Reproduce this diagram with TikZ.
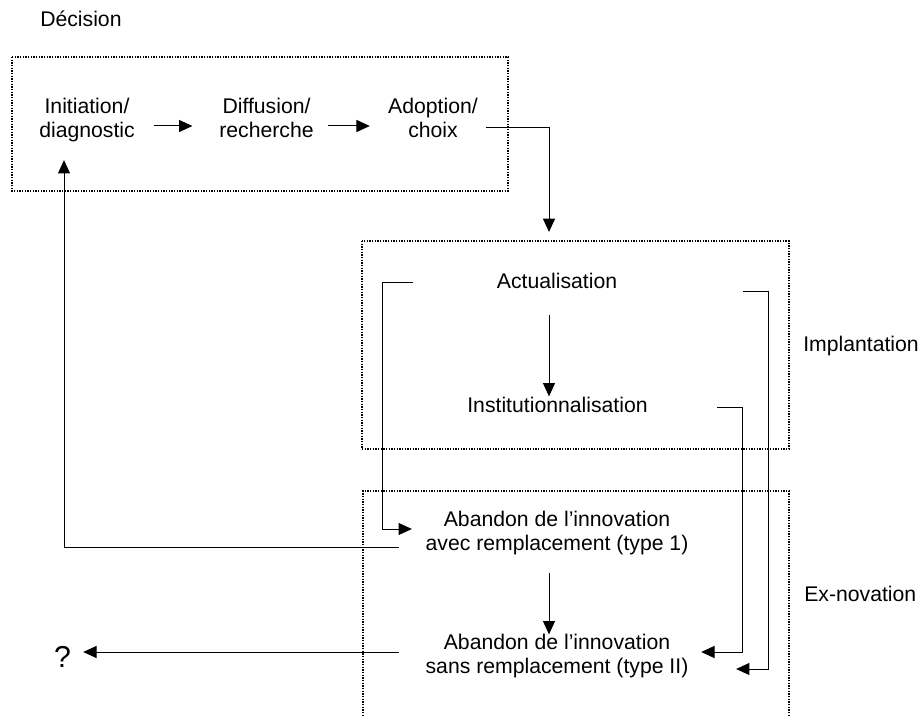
\documentclass[tikz,border=0pt]{standalone}
\usepackage{fontspec}
\setmainfont{Liberation Sans}
\usetikzlibrary{arrows.meta}

\begin{document}
\begin{tikzpicture}[x=0.75pt, y=-0.75pt, font=\fontsize{15.9}{18}\selectfont]
        \tikzstyle{stage}=[align=center, inner sep=0pt]
        \tikzstyle{label}=[inner sep=0pt, anchor=base west]
        \tikzstyle{zone}=[line width=1.1pt, dash pattern=on 1pt off 1pt]
        \tikzstyle{arr}=[line width=0.75pt, -{Triangle[length=10pt,width=9pt]}]

        \useasboundingbox (0,0) rectangle (921,716);

        % phases
        \draw[zone] (12,57) rectangle (508,191);
        \draw[zone] (362,241) rectangle (789,449);
        \draw[zone] (363,716) -- (363,491) -- (789,491) -- (789,716);

        \node[label] (L_dec) at (40,27) {Décision};
        \node[label] (L_impl) at (803,352) {Implantation};
        \node[label] (L_exn) at (804,601) {Ex-novation};

        \node[stage] (S_init) at (87,120.5) {Initiation/\\diagnostic};
        \node[stage] (S_diff) at (266.5,118) {Diffusion/\\recherche};
        \node[stage] (S_adopt) at (433,118) {Adoption/\\choix};
        \node[stage] (S_actu) at (557,281) {Actualisation};
        \node[stage] (S_inst) at (557.5,405) {Institutionnalisation};
        \node[stage] (S_abav) at (557,533.5) {Abandon de l’innovation\\avec remplacement (type 1)};
        \node[stage] (S_absa) at (557,656.5) {Abandon de l’innovation\\sans remplacement (type II)};
        \node[inner sep=0pt, anchor=base, font=\fontsize{22.7}{26}\selectfont] (S_q) at (62.5,667) {?};

        \coordinate (C_top) at (549,232);
        \coordinate (C_l1) at (413,283);
        \coordinate (C_l2) at (382,529);
        \coordinate (C_r1) at (743,292);
        \coordinate (C_r2) at (768,669);
        \coordinate (C_r3) at (717,408);
        \coordinate (C_r4) at (742,652);
        \coordinate (C_fb) at (64,547);

        \draw[arr, shorten <=13.9pt, shorten >=20pt] (S_init.east |- 0,126) -- (S_diff.west |- 0,126);
        \draw[arr, shorten <=10.4pt, shorten >=13.6pt] (S_diff.east |- 0,126) -- (S_adopt.west |- 0,126);
        \draw[arr, shorten <=6pt] (S_adopt.east |- 0,128) -| (C_top);
        \draw[arr, shorten <=19.5pt, shorten >=0.4pt] (S_actu.south -| 549,0) -- (S_inst.north -| 549,0);
        \draw[arr, shorten <=13pt] (S_abav.south -| 549,0) -- (S_absa.north -| 549,0);
        \draw[arr, shorten >=10.1pt] (C_l1) -| (C_l2) -- (S_abav.west |- C_l2);
        \draw[arr, shorten >=35.6pt] (C_r1) -| (C_r2) -- (S_absa.east |- C_r2);
        \draw[arr, shorten >=9.4pt] (C_r3) -| (C_r4) -- (S_absa.east |- C_r4);
        \draw[arr, shorten <=19.9pt, shorten >=13.1pt] (S_abav.west |- C_fb) -| (S_init.south -| C_fb);
        \draw[arr, shorten <=19.9pt, shorten >=9pt] (S_absa.west |- 0,652) -- (S_q.east |- 0,652);
    \end{tikzpicture}
\end{document}
